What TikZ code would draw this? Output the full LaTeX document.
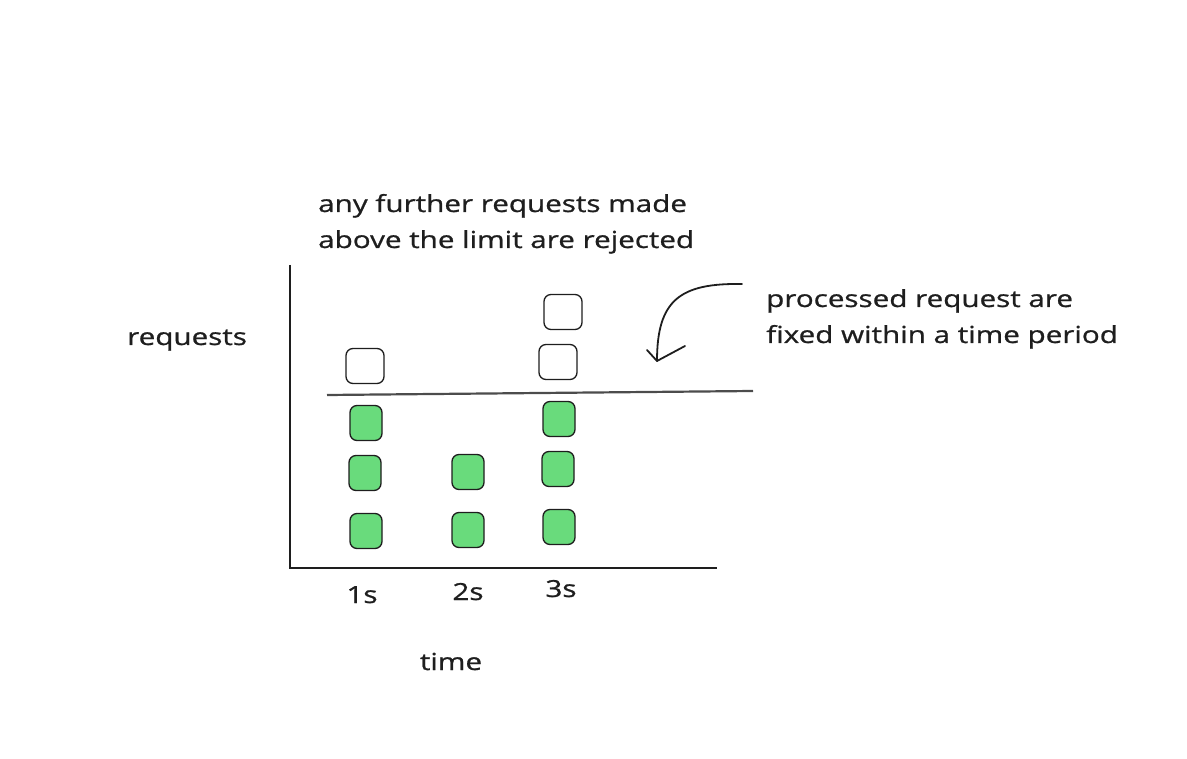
\documentclass[tikz,border=0pt]{standalone}
\usepackage{fontspec}
\newfontfamily\hand[FakeStretch=1.26,FakeBold=0.9]{Open Sans}
\definecolor{okgreen}{HTML}{69DB7C}
\definecolor{ink}{HTML}{1E1E1E}
\begin{document}
\begin{tikzpicture}[x=1pt,y=-1pt,
  txt/.style={anchor=base west,inner sep=0pt,font=\hand\fontsize{23.5}{28}\selectfont,text=ink},
  ctxt/.style={anchor=base,inner sep=0pt,font=\hand\fontsize{23.5}{28}\selectfont,text=ink},
  rejbox/.style={draw=ink,line width=1.3pt,fill=white,rounded corners=7pt,minimum width=38pt,minimum height=35pt,inner sep=0pt},
  okbox/.style={draw=ink,line width=1.3pt,fill=okgreen,rounded corners=7pt,minimum width=32pt,minimum height=35pt,inner sep=0pt},
  axis/.style={draw=ink,line width=1.4pt},
  limit/.style={draw=black!70,line width=2.2pt},
  pointer/.style={draw=ink,line width=1.8pt,line cap=round,line join=round}]
\useasboundingbox (0,0) rectangle (1187,759);
% axes
\coordinate (ytop) at (290,265);
\coordinate (orig) at (290,568);
\coordinate (xend) at (717,568);
\draw[axis] (ytop) -- (orig) -- (xend);
% limit line
\coordinate (l1) at (327,395);
\coordinate (l2) at (753,391);
\draw[limit] (l1) -- (l2);
% rejected requests
\node[rejbox] (r1) at (365,366) {};
\node[rejbox] (r3a) at (563,312) {};
\node[rejbox] (r3b) at (558,362) {};
% processed requests
\node[okbox] (g1a) at (366,423) {};
\node[okbox] (g1b) at (365,473) {};
\node[okbox] (g1c) at (366,531) {};
\node[okbox] (g2b) at (468,472) {};
\node[okbox] (g2c) at (468,530) {};
\node[okbox] (g3a) at (559,419) {};
\node[okbox] (g3b) at (558,469) {};
\node[okbox] (g3c) at (559,527) {};
% labels
\node[txt] (top1) at (318,212) {any further requests made};
\node[txt] (top2) at (318,248) {above the limit are rejected};
\node[txt] (ylab) at (127,345) {requests};
\node[txt] (rt1) at (766,307) {processed request are};
\node[txt] (rt2) at (766,343) {fixed within a time period};
\node[ctxt] (s1) at (362,603) {1s};
\node[ctxt] (s2) at (468,600) {2s};
\node[ctxt] (s3) at (561,597) {3s};
\node[ctxt] (xlab) at (451,670) {time};
% pointer arrow
\coordinate (ps) at (742,284);
\coordinate (pe) at (657,361);
\coordinate (pb1) at (647,350);
\coordinate (pb2) at (685,346);
\draw[pointer] (ps) .. controls (680,283) and (657,300) .. (pe);
\draw[pointer] (pb1) -- (pe) -- (pb2);
\end{tikzpicture}
\end{document}
